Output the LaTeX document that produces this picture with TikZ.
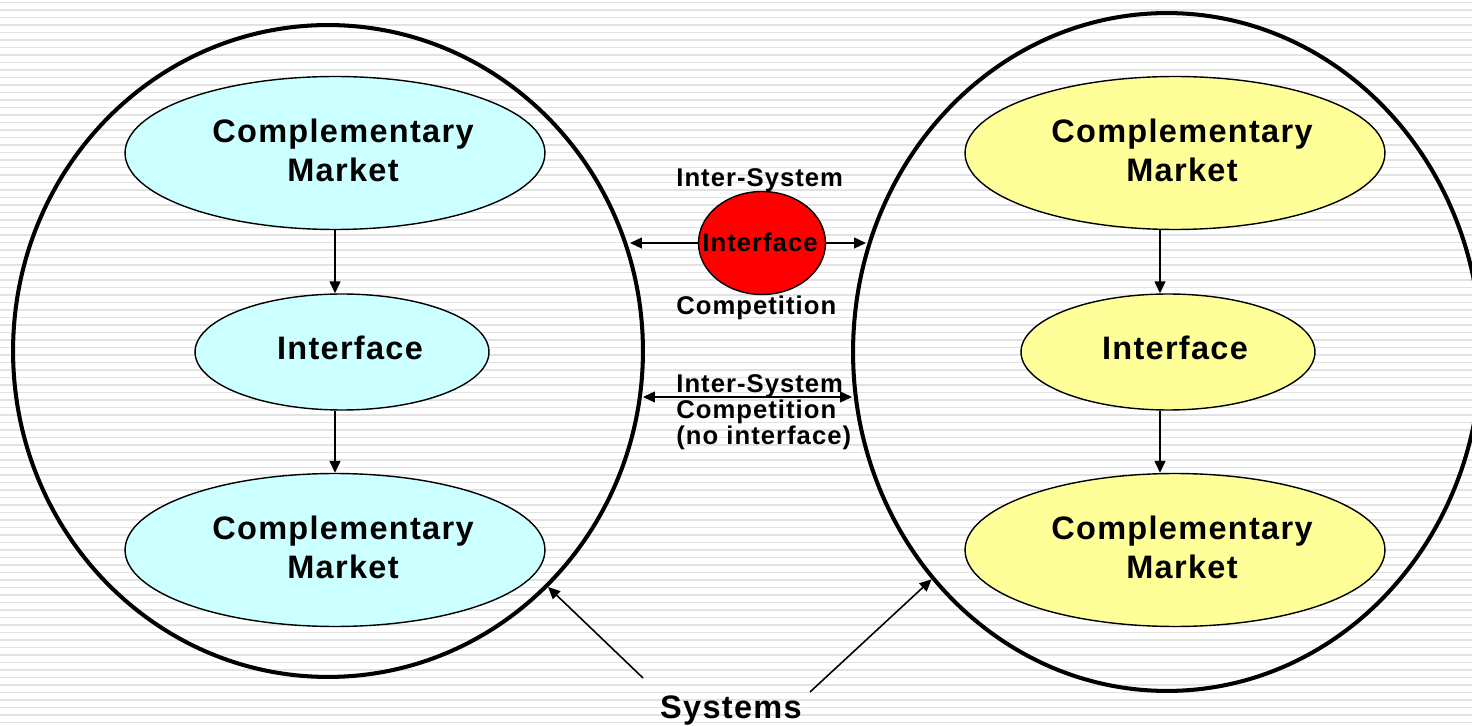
\documentclass[tikz,border=0pt]{standalone}
\usepackage{fontspec}
\setmainfont{Liberation Sans}[LetterSpace=4.0]
\usetikzlibrary{shapes.geometric,arrows.meta}
\definecolor{paleCyan}{HTML}{CCFFFF}
\definecolor{paleYellow}{HTML}{FFFF99}
\definecolor{ifaceRed}{HTML}{FF0000}
\definecolor{stripeGray}{HTML}{E2E2E2}
\begin{document}
\begin{tikzpicture}[x=0.02cm,y=-0.02cm,
  stripe/.style={stripeGray,line width=1.13pt},
  system/.style={ellipse,draw,line width=2.3pt,inner sep=0pt},
  market/.style={ellipse,draw,line width=0.8pt,inner sep=0pt,minimum width=8.4cm,minimum height=3.06cm},
  iface/.style={ellipse,draw,line width=0.8pt,inner sep=0pt,minimum width=5.88cm,minimum height=2.32cm},
  bigtxt/.style={font=\fontsize{18.5}{22.1}\selectfont\bfseries,align=center,inner sep=0pt},
  smalltxt/.style={font=\fontsize{14.6}{15}\selectfont\bfseries,align=left,inner sep=0pt},
  arr/.style={-{Triangle[length=6.8pt,width=6.2pt]},line width=0.9pt},
  dblarr/.style={{Triangle[length=6.8pt,width=6.2pt]}-{Triangle[length=6.8pt,width=6.2pt]},line width=0.9pt}]

% canvas and striped backdrop
\clip (0,0) rectangle (1472,726);
\fill[white] (0,0) rectangle (1472,726);
\foreach \i in {0,...,97}
  \draw[stripe] (0,\i*7.5+2.5) -- (1472,\i*7.5+2.5);

% the two systems
\node[system,minimum width=12.6cm,minimum height=13.04cm] (lsys) at (328,351) {};
\node[system,minimum width=12.56cm,minimum height=13.56cm] (rsys) at (1167,352) {};

% left system
\node[market,fill=paleCyan] (lcm1) at (335,153) {};
\node[iface,fill=paleCyan] (lif) at (342,352) {};
\node[market,fill=paleCyan] (lcm2) at (335,550) {};
\node[bigtxt] (lcm1t) at (343,150) {Complementary\\Market};
\node[bigtxt] (lift) at (350,348) {Interface};
\node[bigtxt] (lcm2t) at (343,547) {Complementary\\Market};
\draw[arr] (lcm1.south) -- (lcm1.south |- lif.north);
\draw[arr] (lcm1.south |- lif.south) -- (lcm2.north);

% right system
\node[market,fill=paleYellow] (rcm1) at (1175,153) {};
\node[iface,fill=paleYellow] (rif) at (1168,352) {};
\node[market,fill=paleYellow] (rcm2) at (1175,550) {};
\node[bigtxt] (rcm1t) at (1182,150) {Complementary\\Market};
\node[bigtxt] (rift) at (1175,348) {Interface};
\node[bigtxt] (rcm2t) at (1182,547) {Complementary\\Market};
\coordinate (rx) at (1160,0);
\draw[arr] (rx |- rcm1.south) -- (rx |- rif.north);
\draw[arr] (rx |- rif.south) -- (rx |- rcm2.north);

% competition through a shared interface
\node[ellipse,draw,line width=0.8pt,fill=ifaceRed,inner sep=0pt,
      minimum width=2.54cm,minimum height=2.06cm] (xif) at (762,243) {};
\node[smalltxt] (xift) at (760,242.5) {Interface};
\node[smalltxt,anchor=base west] (top1) at (676,187) {Inter-System};
\node[smalltxt,anchor=base west] (top2) at (676,315) {Competition};
\coordinate (hl) at (630,243);
\coordinate (hr) at (866,243);
\draw[arr] (xif.west) -- (hl);
\draw[arr] (xif.east) -- (hr);

% competition without an interface
\coordinate (ll) at (643,397);
\coordinate (lr) at (852,397);
\draw[dblarr] (ll) -- (lr);
\node[smalltxt,anchor=north west] (low) at (676,374) {Inter-System\\Competition\\(no interface)};

% caption pointing at both systems
\node[bigtxt,anchor=base] (sys) at (731,718) {Systems};
\coordinate (sl) at (643,678);
\coordinate (sr) at (810,692);
\draw[arr] (sl) -- (lsys.-47);
\draw[arr] (sr) -- (rsys.224);
\end{tikzpicture}
\end{document}
